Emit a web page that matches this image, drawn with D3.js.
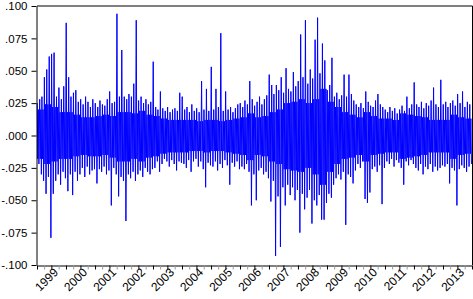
<!DOCTYPE html>
<html><head><meta charset="utf-8">
<script src="https://cdn.jsdelivr.net/npm/d3@7"></script>
<style>html,body{margin:0;padding:0;background:#fff;}svg{display:block;}</style>
</head><body>
<svg id="c" width="473" height="299"></svg>
<script>
// Year labels on the x axis
const yearLabels = ["1999","2000","2001","2002","2003","2004","2005","2006","2007","2008","2009","2010","2011","2012","2013"];
// Y tick values
const yTicks = [0.1, 0.075, 0.05, 0.025, 0, -0.025, -0.05, -0.075, -0.1];

// Monthly maximum of the series (Jan 1999 .. Dec 2013)
const monthHi = [
 0.025,0.028,0.030,0.045,0.051,0.061,0.063,0.064,0.030,0.037,0.028,0.038, // 1999
 0.087,0.045,0.030,0.033,0.035,0.026,0.028,0.024,0.030,0.026,0.022,0.028, // 2000
 0.025,0.022,0.027,0.024,0.023,0.028,0.034,0.025,0.026,0.094,0.030,0.066, // 2001
 0.030,0.028,0.032,0.030,0.040,0.089,0.027,0.030,0.025,0.028,0.024,0.026, // 2002
 0.057,0.022,0.020,0.034,0.021,0.019,0.022,0.018,0.020,0.021,0.019,0.033, // 2003
 0.030,0.020,0.022,0.018,0.024,0.019,0.021,0.018,0.042,0.020,0.036,0.019, // 2004
 0.053,0.020,0.036,0.022,0.079,0.019,0.034,0.020,0.022,0.018,0.021,0.024, // 2005
 0.025,0.022,0.027,0.024,0.042,0.028,0.023,0.026,0.030,0.024,0.028,0.031, // 2006
 0.047,0.039,0.032,0.039,0.035,0.045,0.033,0.052,0.036,0.034,0.049,0.038, // 2007
 0.042,0.078,0.045,0.089,0.040,0.051,0.044,0.074,0.091,0.048,0.071,0.058, // 2008
 0.035,0.039,0.060,0.030,0.033,0.028,0.031,0.047,0.030,0.047,0.032,0.027, // 2009
 0.024,0.022,0.025,0.021,0.034,0.026,0.023,0.022,0.027,0.032,0.024,0.022, // 2010
 0.020,0.018,0.022,0.019,0.021,0.017,0.020,0.023,0.019,0.030,0.021,0.024, // 2011
 0.041,0.024,0.022,0.026,0.021,0.025,0.023,0.027,0.037,0.024,0.022,0.043, // 2012
 0.024,0.026,0.022,0.025,0.027,0.023,0.032,0.025,0.034,0.022,0.026,0.024  // 2013
];
// Monthly minimum of the series
const monthLo = [
 -0.022,-0.030,-0.035,-0.045,-0.032,-0.079,-0.045,-0.035,-0.030,-0.038,-0.028,-0.033, // 1999
 -0.043,-0.030,-0.046,-0.028,-0.035,-0.030,-0.025,-0.032,-0.024,-0.030,-0.027,-0.026, // 2000
 -0.037,-0.026,-0.028,-0.024,-0.030,-0.027,-0.054,-0.025,-0.030,-0.047,-0.032,-0.035, // 2001
 -0.066,-0.030,-0.033,-0.028,-0.035,-0.030,-0.027,-0.032,-0.025,-0.028,-0.030,-0.026, // 2002
 -0.025,-0.020,-0.028,-0.022,-0.018,-0.020,-0.024,-0.019,-0.022,-0.027,-0.020,-0.021, // 2003
 -0.022,-0.025,-0.019,-0.028,-0.020,-0.018,-0.024,-0.020,-0.026,-0.040,-0.021,-0.023, // 2004
 -0.024,-0.020,-0.027,-0.022,-0.025,-0.019,-0.023,-0.038,-0.021,-0.024,-0.020,-0.026, // 2005
 -0.024,-0.026,-0.022,-0.028,-0.054,-0.030,-0.050,-0.027,-0.025,-0.030,-0.028,-0.033, // 2006
 -0.051,-0.035,-0.093,-0.047,-0.086,-0.040,-0.054,-0.038,-0.046,-0.040,-0.050,-0.042, // 2007
 -0.075,-0.045,-0.057,-0.048,-0.042,-0.068,-0.050,-0.054,-0.046,-0.065,-0.065,-0.052, // 2008
 -0.045,-0.048,-0.038,-0.033,-0.030,-0.034,-0.028,-0.069,-0.030,-0.032,-0.037,-0.027, // 2009
 -0.022,-0.025,-0.020,-0.049,-0.052,-0.044,-0.026,-0.024,-0.028,-0.023,-0.053,-0.025, // 2010
 -0.020,-0.022,-0.018,-0.024,-0.019,-0.021,-0.025,-0.038,-0.020,-0.023,-0.019,-0.022, // 2011
 -0.025,-0.027,-0.022,-0.030,-0.024,-0.026,-0.022,-0.028,-0.024,-0.027,-0.025,-0.023, // 2012
 -0.024,-0.022,-0.037,-0.025,-0.027,-0.054,-0.026,-0.023,-0.025,-0.028,-0.024,-0.022  // 2013
];
// Dense core band per quarter (upper and lower edge), 1999Q1 .. 2013Q4
const coreUp = [
 0.020,0.024,0.022,0.018,  0.018,0.016,0.014,0.014,  0.015,0.016,0.015,0.018,
 0.018,0.017,0.019,0.016,  0.015,0.013,0.012,0.012,  0.012,0.012,0.011,0.012,
 0.012,0.011,0.012,0.013,  0.014,0.017,0.014,0.015,  0.018,0.020,0.025,0.026,
 0.028,0.025,0.028,0.036,  0.026,0.022,0.018,0.016,  0.014,0.018,0.015,0.013,
 0.013,0.012,0.017,0.016,  0.015,0.014,0.012,0.012,  0.012,0.016,0.014,0.013
];
const coreDn = [
 -0.018,-0.022,-0.020,-0.018,  -0.018,-0.016,-0.015,-0.016,  -0.016,-0.015,-0.017,-0.020,
 -0.020,-0.018,-0.020,-0.017,  -0.016,-0.014,-0.013,-0.013,  -0.013,-0.012,-0.012,-0.013,
 -0.012,-0.012,-0.013,-0.014,  -0.015,-0.019,-0.015,-0.016,  -0.020,-0.022,-0.026,-0.027,
 -0.028,-0.025,-0.030,-0.038,  -0.028,-0.022,-0.018,-0.017,  -0.015,-0.020,-0.015,-0.014,
 -0.013,-0.013,-0.018,-0.017,  -0.016,-0.015,-0.013,-0.013,  -0.013,-0.018,-0.015,-0.014
];

(function () {
const svg = d3.select("#c");
const mL = 37, mR = 472, mT = 6, mB = 265;

const x = d3.scaleTime().domain([new Date(1999,0,1), new Date(2014,0,1)]).range([mL, mR]);
const y = d3.scaleLinear().domain([-0.1, 0.1]).range([mB, mT]);

// Build the series points
const pts = [];
monthHi.forEach((h, m) => {
  const q = Math.floor(m / 3);
  pts.push({d: new Date(1999, m, 4),  v: h});
  pts.push({d: new Date(1999, m, 11), v: coreDn[q]});
  pts.push({d: new Date(1999, m, 18), v: coreUp[q]});
  pts.push({d: new Date(1999, m, 25), v: monthLo[m]});
});

svg.append("path")
  .datum(pts)
  .attr("fill", "none")
  .attr("stroke", "#0000ff")
  .attr("stroke-width", 1)
  .attr("d", d3.line().x(p => x(p.d)).y(p => y(p.v)));

// Frame: top gray line, right border
svg.append("line").attr("x1", mL).attr("x2", mR + 0.5).attr("y1", mT).attr("y2", mT)
  .attr("stroke", "#808080").attr("stroke-width", 2);
svg.append("line").attr("x1", mR + 0.5).attr("x2", mR + 0.5).attr("y1", mT).attr("y2", mB)
  .attr("stroke", "#000").attr("stroke-width", 1);

// Y axis
const fmt = v => { const s = d3.format(".3f")(v).replace("\u2212", "-"); return s.replace(/^(-?)0\./, "$1."); };
const yAxis = svg.append("g").attr("transform", `translate(${mL - 0.5},0)`)
  .call(d3.axisLeft(y).tickValues(yTicks).tickFormat(fmt).tickSize(5).tickSizeOuter(0).tickPadding(4));
yAxis.select(".domain").attr("stroke", "#000");
yAxis.selectAll("text").attr("font-family", "Liberation Sans, Arial, sans-serif").attr("font-size", 11.5).attr("fill", "#000");

// X axis with quarterly ticks
const quarters = d3.timeMonth.every(3).range(new Date(1999,0,1), new Date(2014,0,2));
const xAxis = svg.append("g").attr("transform", `translate(0,${mB + 0.5})`)
  .call(d3.axisBottom(x).tickValues(quarters).tickFormat("").tickSize(4).tickSizeOuter(0));
xAxis.select(".domain").attr("stroke", "#000");
xAxis.selectAll(".tick line").attr("stroke", d => (d.getMonth() % 6 === 0) ? "#000" : "#999");

// Year labels, rotated
svg.append("g").selectAll("text").data(yearLabels).join("text")
  .attr("transform", (t, i) => `translate(${x(new Date(1999 + i, 0, 1)) + 22},${mB + 8}) rotate(-45)`)
  .attr("text-anchor", "end")
  .attr("font-family", "Liberation Sans, Arial, sans-serif")
  .attr("font-size", 12)
  .attr("fill", "#000")
  .text(t => t);
})();
</script>
</body></html>
